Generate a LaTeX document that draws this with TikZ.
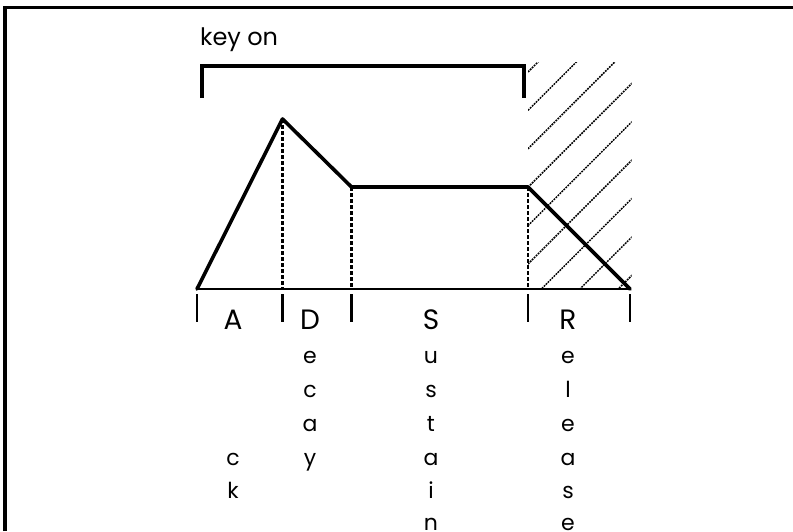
\documentclass[tikz,border=0pt]{standalone}
\usepackage{fontspec}
\setmainfont{Poppins}
\begin{document}
\begin{tikzpicture}[x=1pt,y=-1pt,
  frame/.style={line width=3.2pt},
  envline/.style={line width=3.6pt, line join=round, line cap=round},
  bracketline/.style={line width=4.8pt},
  baseln/.style={line width=2.4pt},
  tickln/.style={line width=2.2pt},
  guide/.style={line width=2.2pt, dash pattern=on 3.5pt off 2.5pt},
  hatchln/.style={line width=1.5pt, dash pattern=on 1.8pt off 1pt},
  capl/.style={font=\fontsize{28}{28}\selectfont, anchor=base, inner sep=0pt},
  lowl/.style={font=\fontsize{22}{22}\selectfont, anchor=base, inner sep=0pt},
  keyl/.style={font=\fontsize{24}{24}\selectfont, anchor=base west, inner sep=0pt}
]
\useasboundingbox (0,0) rectangle (793,531);
\fill[white] (0,0) rectangle (793,531);
% frame
\coordinate (fb) at (5,531);
\coordinate (fc) at (5,7.5);
\coordinate (fr) at (793,7.5);
\draw[frame] (fb) -- (fc) -- (fr);
% key on
\node[keyl] (keyon) at (200,45) {key on};
\coordinate (bl) at (202,98);
\coordinate (bt1) at (202,66);
\coordinate (bt2) at (524,66);
\coordinate (br) at (524,98);
\draw[bracketline] (bl) -- (bt1) -- (bt2) -- (br);
% hatching
\begin{scope}
\clip (528,62) rectangle (631.5,289);
\foreach \i in {0,...,9} {
  \draw[hatchln] (528,{72+38.4*\i}) -- ({528+240},{72+38.4*\i-240});
}
\end{scope}
% envelope points
\coordinate (p0) at (197,289);
\coordinate (p1) at (282.5,119);
\coordinate (p2) at (351.5,187);
\coordinate (p3) at (528,187);
\coordinate (p4) at (630,289);
% guides
\coordinate (g1) at (282.5,289);
\coordinate (g2) at (351.5,289);
\coordinate (g3) at (528,289);
\draw[guide] (p1) -- (g1);
\draw[guide] (p2) -- (g2);
\draw[guide] (p3) -- (g3);
% baseline
\draw[baseln] (p0) -- (p4);
\draw[envline] (p0) -- (p1) -- (p2) -- (p3) -- (p4);
% ticks
\foreach \x [count=\k] in {197,282.5,351.5,528,630} {
  \coordinate (ta\k) at (\x,294);
  \coordinate (tb\k) at (\x,322);
  \draw[tickln] (ta\k) -- (tb\k);
}
% labels
\node[capl] (lA) at (233,329) {A};
\node[lowl] (lA5) at (233,465) {c};
\node[lowl] (lA6) at (233,498) {k};
\node[capl] (lD) at (310,329) {D};
\node[lowl] (lD2) at (310,363) {e};
\node[lowl] (lD3) at (310,397) {c};
\node[lowl] (lD4) at (310,431) {a};
\node[lowl] (lD5) at (310,465) {y};
\node[capl] (lS) at (431,329) {S};
\node[lowl] (lS2) at (431,363) {u};
\node[lowl] (lS3) at (431,397) {s};
\node[lowl] (lS4) at (431,431) {t};
\node[lowl] (lS5) at (431,465) {a};
\node[lowl] (lS6) at (431,498) {i};
\node[lowl] (lS7) at (431,530) {n};
\node[capl] (lR) at (568,329) {R};
\node[lowl] (lR2) at (568,363) {e};
\node[lowl] (lR3) at (568,397) {l};
\node[lowl] (lR4) at (568,431) {e};
\node[lowl] (lR5) at (568,465) {a};
\node[lowl] (lR6) at (568,498) {s};
\node[lowl] (lR7) at (568,530) {e};
\end{tikzpicture}
\end{document}
